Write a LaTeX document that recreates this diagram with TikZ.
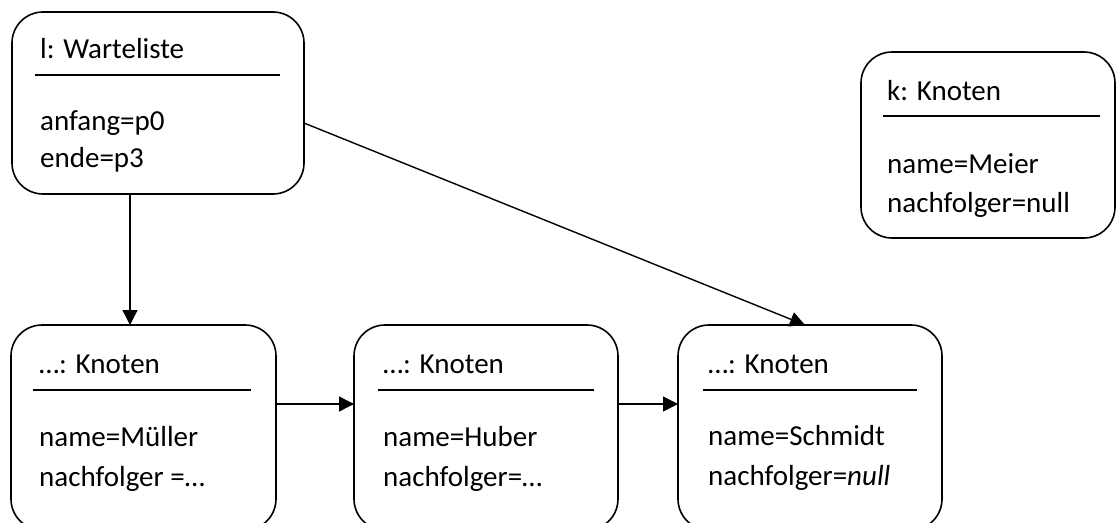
\documentclass[tikz,border=0pt]{standalone}
\usepackage{fontspec}
\setmainfont{Carlito}
\usetikzlibrary{arrows.meta}
\begin{document}
\begin{tikzpicture}[x=1pt,y=-1pt,
  obj/.style={draw=black, line width=1.6pt, rounded corners=31pt, rectangle, inner sep=0pt, outer sep=0pt},
  txt/.style={anchor=base west, inner sep=0pt, font=\fontsize{29}{35}\selectfont},
  sep/.style={line width=1.6pt},
  arr/.style={line width=1.4pt, -{Triangle[length=15pt,width=15pt]}}]
\useasboundingbox (0,0) rectangle (1116,522);
% boxes
\node[obj, minimum width=292pt, minimum height=182pt] (W) at (158,103) {};
\node[obj, minimum width=254pt, minimum height=186pt] (K) at (988,145) {};
\node[obj, minimum width=265pt, minimum height=205pt] (A) at (143.5,427.5) {};
\node[obj, minimum width=264pt, minimum height=205pt] (B) at (486,427.5) {};
\node[obj, minimum width=264pt, minimum height=205pt] (C) at (810,427.5) {};
% W
\node[txt] (Wt) at (40,58) {l: Warteliste};
\draw[sep] (35,75) -- (280,75);
\node[txt] (W1) at (40,130) {anfang=p0};
\node[txt] (W2) at (40,167) {ende=p3};
% K
\node[txt] (Kt) at (887,100) {k: Knoten};
\draw[sep] (883,116) -- (1100,116);
\node[txt] (K1) at (887,173) {name=Meier};
\node[txt] (K2) at (887,212) {nachfolger=null};
% A
\node[txt] (At) at (39,373) {…: Knoten};
\draw[sep] (33,390) -- (251,390);
\node[txt] (A1) at (39,446) {name=Müller};
\node[txt] (A2) at (39,486) {nachfolger =…};
% B
\node[txt] (Bt) at (383,373) {…: Knoten};
\draw[sep] (378,390) -- (594,390);
\node[txt] (B1) at (383,446) {name=Huber};
\node[txt] (B2) at (383,486) {nachfolger=…};
% C
\node[txt] (Ct) at (708,373) {…: Knoten};
\draw[sep] (703,390) -- (917,390);
\node[txt] (C1) at (708,445) {name=Schmidt};
\node[txt] (C2) at (708,485) {nachfolger=\textit{null}};
% connectors
\draw[arr] (W.south -| 130,0) -- (A.north -| 130,0);
\draw[arr] ([yshift=-20pt]W.east) -- ([xshift=-5pt]C.north);
\draw[arr] ([yshift=23.5pt]A.east) -- ([yshift=23.5pt]B.west);
\draw[arr] ([yshift=23.5pt]B.east) -- ([yshift=23.5pt]C.west);
\end{tikzpicture}
\end{document}
